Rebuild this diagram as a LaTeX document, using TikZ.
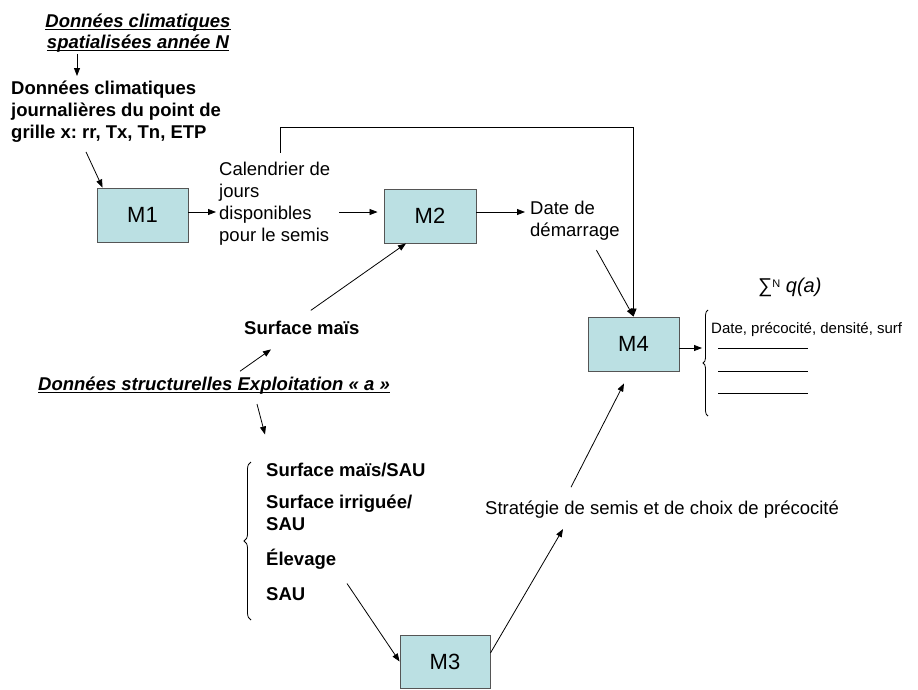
\documentclass[tikz,border=0pt]{standalone}
\usepackage{fontspec}
\setmainfont{Liberation Sans}
\usetikzlibrary{arrows.meta,decorations.pathreplacing,calc}
\definecolor{boxfill}{RGB}{187,224,227}
\definecolor{boxline}{RGB}{85,85,85}
\newcommand\myul[1]{\setbox0\hbox{#1}\rlap{\rule[-2.6pt]{\wd0}{1.1pt}}\box0}
\frenchspacing
\begin{document}
\begin{tikzpicture}[x=1pt,y=-1pt,
  mbox/.style={draw=boxline,fill=boxfill,line width=0.9pt,minimum width=91pt,minimum height=54pt,inner sep=0pt,font=\fontsize{22}{26}\selectfont},
  txt/.style={inner sep=0pt,anchor=base west,font=\fontsize{18.5}{22}\selectfont,align=left},
  bf/.style={font=\fontsize{18.5}{22}\selectfont\bfseries},
  bfit/.style={font=\fontsize{18.5}{21.5}\selectfont\bfseries\itshape},
  arr/.style={-{Triangle[length=8pt,width=6pt]},line width=0.8pt},
  ln/.style={line width=0.8pt},
  brc/.style={decorate,line width=0.8pt}]
\useasboundingbox (0,0) rectangle (918,689);

% top
\node[txt,bfit,anchor=north,align=center] (title) at (138,13.5) {\myul{Données climatiques}\\\myul{spatialisées année N}};
\node[txt,bf,anchor=north west] (blk) at (11,81) {Données climatiques\\journalières du point de\\grille x: rr, Tx, Tn, ETP};
\draw[arr] ([xshift=-61pt,yshift=-1pt]title.south) -- ([shift={(66pt,5pt)}]blk.north west);

% boxes
\node[mbox] (M1) at (142.5,215) {M1};
\node[mbox,minimum width=92pt] (M2) at (430,216) {M2};
\node[mbox] (M4) at (633.5,344) {M4};
\node[mbox,minimum width=90pt,minimum height=53pt] (M3) at (445,661.5) {M3};

\draw[arr] ([shift={(75pt,-9pt)}]blk.south west) -- ([xshift=6pt]M1.north west);

% calendrier
\node[txt,anchor=north west] (cal) at (219,161.5) {Calendrier de\\jours\\disponibles\\pour le semis};
\coordinate (m1o) at ([yshift=3pt]M1.east);
\draw[arr,shorten >=3pt] (m1o) -- (m1o -| cal.west);
\coordinate (m2i) at ([yshift=4pt]M2.west);
\draw[arr,shorten <=9pt,shorten >=6pt] (m2i -| cal.east) -- (m2i);

% date de demarrage
\node[txt,anchor=north west] (date) at (530,200.5) {Date de\\démarrage};
\coordinate (m2o) at ([yshift=4pt]M2.east);
\draw[arr,shorten >=5pt] (m2o) -- (m2o -| date.west);

% loop to M4
\coordinate (lp) at ([shift={(61pt,9pt)}]cal.north west);
\draw[arr] (lp) -- ++(0,-25) -| (M4.north);
\draw[arr] ([shift={(21.5pt,-10pt)}]date.south) -- (M4.north);

% output of M4
\draw[brc,decoration={brace,amplitude=5pt}] (708,416) -- (708,310);
\draw[arr] ([yshift=-4pt]M4.east) -- (702,348);
\node[txt,font=\fontsize{15}{18}\selectfont] (res) at (711,333) {Date, précocité, densité, surf};
\draw[ln] (718,348) -- (808,348);
\draw[ln] (718,371) -- (808,371);
\draw[ln] (718,393) -- (808,393);
\node[txt,font=\fontsize{20}{24}\selectfont] (sum) at (758,292) {∑\raisebox{5pt}{\fontsize{11}{13}\selectfont N} \itshape q(a)};

% structural data
\node[txt,bf] (sm) at (244,334) {Surface maïs};
\draw[arr] ([shift={(9pt,10pt)}]sm.north) -- ([xshift=-24pt]M2.south);
\node[txt,bfit] (st) at (38,390) {\myul{Données structurelles Exploitation « a »}};
\draw[arr] ([shift={(202pt,5pt)}]st.north west) -- ([shift={(27pt,-15pt)}]sm.south west);

\node[txt,bf,anchor=north west] (lst) at (266,462.5) {Surface maïs/SAU\\[10pt]Surface irriguée/\\SAU\\[13pt]Élevage\\[13pt]SAU};
\draw[brc,decoration={brace,amplitude=7pt}] (251,620) -- (251,462);
\draw[arr] ([shift={(219pt,-10pt)}]st.south west) -- ([shift={(-1pt,28pt)}]lst.north west);
\draw[arr] ([shift={(81pt,17pt)}]lst.south west) -- (M3.west);

% strategy
\node[txt] (str) at (485,514) {Stratégie de semis et de choix de précocité};
\draw[arr] ([yshift=8.5pt]M3.east) -- ([shift={(78pt,-11pt)}]str.south west);
\draw[arr] ([shift={(86pt,13pt)}]str.north west) -- ([shift={(-9.5pt,-12pt)}]M4.south);
\end{tikzpicture}
\end{document}
